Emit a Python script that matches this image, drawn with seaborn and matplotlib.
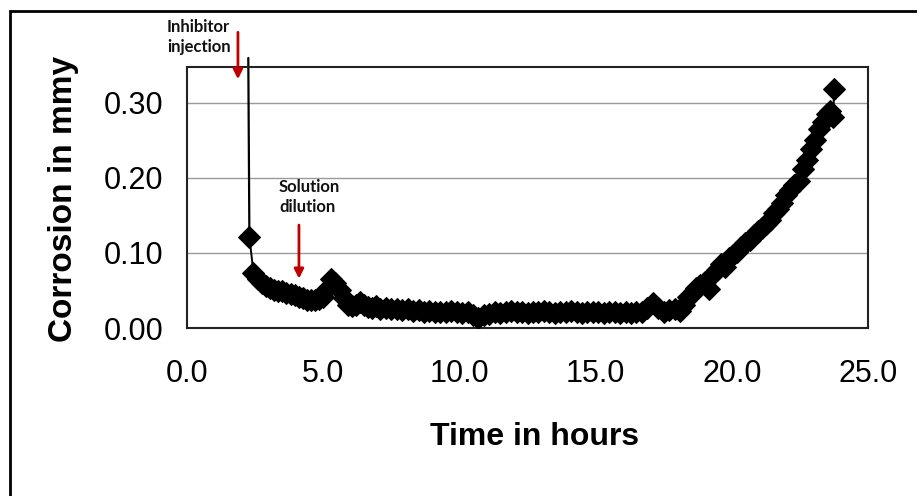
import matplotlib
matplotlib.use("Agg")
import matplotlib.pyplot as plt
import seaborn as sns
import pandas as pd
from matplotlib.patches import Rectangle

# ---------------- data ----------------
spike_hours = [2.25, 2.29]
spike_values = [0.360, 0.122]

hours = [
    2.29, 2.44, 2.60, 2.75, 2.90, 3.05, 3.20, 3.35, 3.50, 3.65, 3.80, 3.95,
    4.10, 4.25, 4.40, 4.55, 4.70, 4.85, 5.00, 5.15, 5.30, 5.45, 5.60, 5.75,
    5.90, 6.05, 6.20, 6.35, 6.50, 6.65, 6.80, 6.95, 7.10, 7.30, 7.50, 7.70,
    7.90, 8.10, 8.30, 8.50, 8.70, 8.90, 9.10, 9.30, 9.50, 9.70, 9.90, 10.10,
    10.30, 10.50, 10.70, 10.90, 11.10, 11.30, 11.50, 11.70, 11.90, 12.10, 12.30, 12.50,
    12.70, 12.90, 13.10, 13.30, 13.50, 13.70, 13.90, 14.10, 14.30, 14.50, 14.70, 14.90,
    15.10, 15.30, 15.50, 15.70, 15.90, 16.10, 16.30, 16.50, 16.70, 16.90, 17.10, 17.30,
    17.50, 17.70, 17.90, 18.10, 18.25, 18.40, 18.55, 18.70, 18.85, 19.00, 19.15, 19.30,
    19.45, 19.60, 19.75, 19.90, 20.05, 20.20, 20.35, 20.50, 20.65, 20.80, 20.95, 21.10,
    21.25, 21.40, 21.55, 21.70, 21.85, 22.00, 22.15, 22.30, 22.45, 22.60, 22.75, 22.90,
    23.05, 23.20, 23.35, 23.48, 23.60, 23.73, 23.75,
]
corrosion = [
    0.122, 0.073, 0.065, 0.060, 0.056, 0.053, 0.051, 0.050, 0.049, 0.047, 0.045, 0.044,
    0.042, 0.040, 0.038, 0.037, 0.037, 0.039, 0.042, 0.052, 0.066, 0.060, 0.051, 0.040,
    0.031, 0.029, 0.031, 0.035, 0.031, 0.028, 0.027, 0.029, 0.026, 0.027, 0.025, 0.026,
    0.024, 0.025, 0.023, 0.024, 0.022, 0.023, 0.021, 0.022, 0.021, 0.023, 0.021, 0.020,
    0.021, 0.017, 0.014, 0.018, 0.019, 0.021, 0.020, 0.022, 0.023, 0.021, 0.022, 0.020,
    0.022, 0.021, 0.023, 0.021, 0.020, 0.022, 0.021, 0.023, 0.021, 0.020, 0.022, 0.021,
    0.022, 0.020, 0.022, 0.021, 0.020, 0.022, 0.020, 0.021, 0.022, 0.027, 0.034, 0.027,
    0.022, 0.024, 0.026, 0.023, 0.031, 0.041, 0.046, 0.053, 0.058, 0.062, 0.052, 0.072,
    0.078, 0.085, 0.082, 0.094, 0.097, 0.101, 0.108, 0.113, 0.118, 0.124, 0.129, 0.133,
    0.138, 0.144, 0.153, 0.159, 0.166, 0.177, 0.184, 0.190, 0.196, 0.212, 0.224, 0.238,
    0.250, 0.265, 0.274, 0.285, 0.289, 0.281, 0.318,
]

x_ticks = [0.0, 5.0, 10.0, 15.0, 20.0, 25.0]
y_ticks = [0.00, 0.10, 0.20, 0.30]
x_label = "Time in hours"
y_label = "Corrosion in mmy"
annotations = ["Inhibitor\ninjection", "Solution\ndilution"]

# ---------------- style ----------------
sns.set_style("white")
plt.rcParams["font.family"] = ["Liberation Sans", "DejaVu Sans"]
plt.rcParams["text.color"] = "black"
plt.rcParams["axes.labelcolor"] = "black"

fig = plt.figure(figsize=(9.17, 4.96), dpi=100)
ax = fig.add_axes([187 / 917, 1 - 328 / 496, (868 - 187) / 917, (328 - 67) / 496])

df = pd.DataFrame({"hours": hours, "corrosion": corrosion})
spike_df = pd.DataFrame({"hours": spike_hours, "corrosion": spike_values})

sns.lineplot(data=spike_df, x="hours", y="corrosion", ax=ax, color="black",
             linewidth=1.6, sort=False)
ax.lines[-1].set_clip_on(False)
sns.lineplot(data=df, x="hours", y="corrosion", ax=ax, color="black",
             linewidth=1.4, sort=False, marker="D", markersize=11,
             markeredgecolor="black", markerfacecolor="black", zorder=3)

ax.set_xlim(0, 25)
ax.set_ylim(0, 0.348)
ax.set_xticks(x_ticks)
ax.set_xticklabels([f"{v:.1f}" for v in x_ticks])
ax.set_yticks(y_ticks)
ax.set_yticklabels([f"{v:.2f}" for v in y_ticks])

ax.grid(axis="y", color="#9a9a9a", linewidth=1.0)
ax.grid(axis="x", visible=False)
ax.set_axisbelow(True)
for s in ax.spines.values():
    s.set_visible(True)
    s.set_color("#222222")
    s.set_linewidth(1.5)

ax.tick_params(axis="both", which="major", direction="out", length=7,
               width=1.0, color="#555555", labelsize=22, labelcolor="black")
ax.tick_params(axis="x", pad=15)
ax.tick_params(axis="y", pad=10)

ax.set_xlabel(x_label, fontsize=23, fontweight="bold", color="black")
ax.set_ylabel(y_label, fontsize=24, fontweight="bold", color="black")
ax.xaxis.label.set_verticalalignment("center")
ax.xaxis.set_label_coords(0.51, -0.418)
ax.yaxis.label.set_verticalalignment("center")
ax.yaxis.set_label_coords(-0.182, 0.494)

red = "#C00000"
ax.text(-0.73, 0.412, annotations[0], fontsize=12, fontweight="bold",
        family=["Lato", "DejaVu Sans"], va="top", ha="left",
        linespacing=1.3, clip_on=False, color="#111111")
ax.annotate("", xy=(1.87, 0.328), xytext=(1.87, 0.398),
            arrowprops=dict(arrowstyle="-|>", color=red, lw=2, mutation_scale=14),
            annotation_clip=False)
ax.text(3.38, 0.198, annotations[1], fontsize=12, fontweight="bold",
        family=["Lato", "DejaVu Sans"], va="top", ha="left",
        linespacing=1.3, clip_on=False, color="#111111")
ax.annotate("", xy=(4.11, 0.062), xytext=(4.11, 0.141),
            arrowprops=dict(arrowstyle="-|>", color=red, lw=2, mutation_scale=14),
            annotation_clip=False)

# outer frame
fig.add_artist(Rectangle((10 / 917, -0.05), 1.2, 1 - 11 / 496 + 0.05,
                         transform=fig.transFigure, fill=False,
                         edgecolor="black", linewidth=2.0))

fig.savefig("out.png", dpi=100)
